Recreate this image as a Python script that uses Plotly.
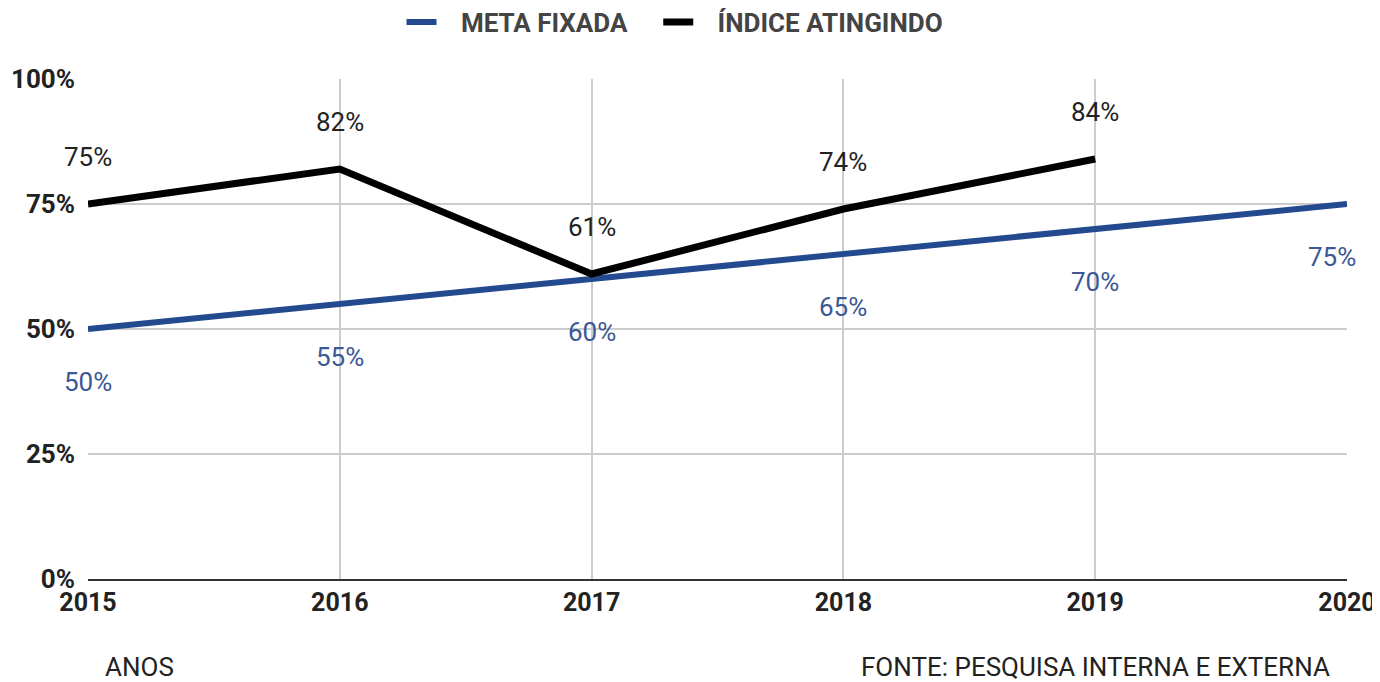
"""
Meta fixada x índice atingido, 2015-2020.
"""
import plotly.graph_objects as go

anos = [2015, 2016, 2017, 2018, 2019, 2020]
meta_fixada = [50, 55, 60, 65, 70, 75]
anos_indice = [2015, 2016, 2017, 2018, 2019]
indice_atingido = [75, 82, 61, 74, 84]
y_ticks = [0, 25, 50, 75, 100]

AZUL = "#234a8f"
PRETO = "#000000"
TAM = 26
NB = "\u00a0"

fig = go.Figure()
fig.add_trace(go.Scatter(x=anos, y=meta_fixada, mode="lines",
                         name=NB * 3 + "META FIXADA" + NB * 4,
                         line=dict(color=AZUL, width=6)))
fig.add_trace(go.Scatter(x=anos_indice, y=indice_atingido, mode="lines",
                         name=NB * 3 + "ÍNDICE ATINGINDO",
                         line=dict(color=PRETO, width=7)))

# rótulos dos valores
for i, (a, v) in enumerate(zip(anos, meta_fixada)):
    fig.add_annotation(x=a, y=v, text=f"{v}%", showarrow=False, yshift=-53,
                       xshift=-15 if i == len(anos) - 1 else 0,
                       font=dict(family="Roboto", size=TAM, color="#3a5896"))
for a, v in zip(anos_indice, indice_atingido):
    fig.add_annotation(x=a, y=v, text=f"{v}%", showarrow=False, yshift=47,
                       font=dict(family="Roboto", size=TAM, color="#222222"))

fig.add_annotation(xref="paper", yref="paper", x=0.012, y=-0.176,
                   xanchor="left", yanchor="middle",
                   text="ANOS", showarrow=False,
                   font=dict(family="Roboto", size=TAM, color="#222222"))
fig.add_annotation(xref="paper", yref="paper", x=0.988, y=-0.176,
                   xanchor="right", yanchor="middle",
                   text="FONTE: PESQUISA INTERNA E EXTERNA", showarrow=False,
                   font=dict(family="Roboto", size=TAM, color="#222222"))

# a página tem 8px de margem no corpo
fig.update_layout(
    width=1372, height=674,
    margin=dict(l=80, r=33, t=71, b=103, autoexpand=False),
    plot_bgcolor="white", paper_bgcolor="white",
    font=dict(family="Roboto", color="#222222"),
    showlegend=True,
    legend=dict(orientation="h", xref="container", yref="container",
                x=667 / 1372, xanchor="center", y=1 - 14 / 674, yanchor="middle",
                font=dict(family="Roboto", size=TAM, color="#444444", weight="bold"),
                itemwidth=30),
    xaxis=dict(range=[2015, 2020], tickvals=anos, ticktext=[str(a) for a in anos],
               showgrid=True, gridcolor="#cccccc", gridwidth=2, zeroline=False,
               showline=True, linecolor="#333333", linewidth=2,
               ticks="", ticklen=0, automargin=False,
               tickfont=dict(family="Roboto", size=25, color="#222222", weight="bold")),
    yaxis=dict(range=[0, 100], tickvals=y_ticks, ticktext=[f"{t}%" for t in y_ticks],
               showgrid=True, gridcolor="#cccccc", gridwidth=2, zeroline=False,
               showline=False, ticks="", ticklabelstandoff=12, automargin=False,
               tickfont=dict(family="Roboto", size=TAM, color="#222222", weight="bold")),
)

fig.write_html("out.html")
